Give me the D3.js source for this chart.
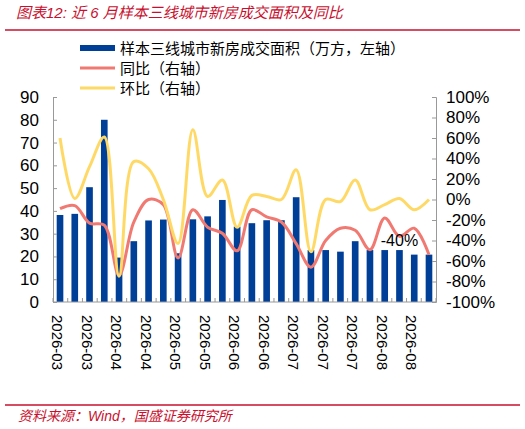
<!DOCTYPE html>
<html><head><meta charset="utf-8">
<script src="https://cdn.jsdelivr.net/npm/d3@7"></script>
<style>body{margin:0;background:#fff}text{font-family:"Liberation Sans","Noto Sans CJK SC",sans-serif}</style>
</head><body><div id="viz"></div>
<script>
var area = [38.2,38.7,50.4,80,19.5,26.7,35.8,36.2,21.4,36.3,37.6,44.8,33.1,34.6,35.9,35.9,46,22.8,22.8,22.1,26.7,22.8,22.8,22.8,20.8,20.8];
var yoy = [-9,-6,-23,-25,-74,-22,0,-5,-57,-10,-27,-33,-50,-10,-17,-22,-43,-66,-40,-28,-30,-49,-18,-36,-28,-54];
var mom = [60,1,32,61,-75,37,30,0,-43,68,3,19,-27,4,3,0,29,-51,0,-2,19,-10,-5,1,-10,0];
var tickLabels = ["2026-03","2026-03","2026-04","2026-04","2026-05","2026-05","2026-06","2026-06","2026-07","2026-07","2026-07","2026-08","2026-08"];
var leftTicks = [0,10,20,30,40,50,60,70,80,90];
var rightTicks = [-100,-80,-60,-40,-20,0,20,40,60,80,100];

var svg = d3.select("#viz").append("svg").attr("width", 525).attr("height", 429);
var red = "#c8102e";

svg.append("text").attr("x", 16).attr("y", 18).attr("fill", red).style("font-style", "italic")
    .style("font-size", "15px").text("图表12:  近 6 月样本三线城市新房成交面积及同比");
svg.append("line").attr("x1", 5).attr("x2", 520).attr("y1", 30).attr("y2", 30).attr("stroke", red).attr("stroke-width", 1.5);
svg.append("line").attr("x1", 5).attr("x2", 520).attr("y1", 405).attr("y2", 405).attr("stroke", red).attr("stroke-width", 1.5);
svg.append("text").attr("x", 18).attr("y", 421).attr("fill", red).style("font-style", "italic")
    .style("font-size", "14px").text("资料来源：Wind，国盛证券研究所");

var x0 = 53, x1 = 436, yTop = 97, yBot = 302;
var idx = d3.range(area.length);
var x = d3.scaleBand().domain(idx).range([x0, x1]).paddingInner(0.55).paddingOuter(0.25);
var y = d3.scaleLinear().domain([0, 90]).range([yBot, yTop]);
var y2 = d3.scaleLinear().domain([-100, 100]).range([yBot, yTop]);
var cx = function(i) { return x(i) + x.bandwidth() / 2; };

svg.selectAll(".bar").data(area).enter().append("rect")
    .attr("x", function(d, i) { return x(i); })
    .attr("width", x.bandwidth())
    .attr("y", function(d) { return y(d); })
    .attr("height", function(d) { return yBot - y(d); })
    .attr("fill", "#003f98");

var line = d3.line().x(function(d, i) { return cx(i); }).y(function(d) { return y2(d); }).curve(d3.curveCatmullRom);
svg.append("path").datum(yoy).attr("d", line).attr("fill", "none").attr("stroke", "#f07a72").attr("stroke-width", 3);
svg.append("path").datum(mom).attr("d", line).attr("fill", "none").attr("stroke", "#ffd966").attr("stroke-width", 3);

svg.append("text").attr("x", cx(23)).attr("y", y2(-40) + 5).attr("text-anchor", "middle")
    .style("font-size", "16px").text("-40%");

var axL = d3.axisLeft(y).tickValues(leftTicks).tickSize(-4);
var gL = svg.append("g").attr("transform", "translate(" + x0 + ",0)").call(axL);
var axR = d3.axisRight(y2).tickValues(rightTicks).tickSize(-4)
    .tickFormat(function(d) { return d + "%"; });
var gR = svg.append("g").attr("transform", "translate(" + x1 + ",0)").call(axR);
[gL, gR].forEach(function(g) {
    g.select(".domain").attr("stroke", "#999");
    g.selectAll(".tick line").attr("stroke", "#999");
    g.selectAll("text").style("font-size", "17px").attr("fill", "#000");
});
gL.selectAll("text").attr("x", -14);
gR.selectAll("text").attr("x", 10).attr("text-anchor", "start");

svg.append("line").attr("x1", x0).attr("x2", x1).attr("y1", yBot).attr("y2", yBot).attr("stroke", "#999");
svg.selectAll(".xt").data(idx.concat([area.length])).enter().append("line")
    .attr("x1", function(i) { return x0 + i * (x1 - x0) / area.length; })
    .attr("x2", function(i) { return x0 + i * (x1 - x0) / area.length; })
    .attr("y1", yBot).attr("y2", yBot - 4).attr("stroke", "#999");

svg.selectAll(".xl").data(tickLabels).enter().append("text")
    .attr("transform", function(d, k) { return "translate(" + (cx(2 * k) - 8) + "," + (yBot + 13) + ") rotate(90)"; })
    .style("font-size", "15px").text(function(d) { return d; });

var leg = [["样本三线城市新房成交面积（万方，左轴）", "#003f98", 6], ["同比（右轴）", "#f07a72", 3], ["环比（右轴）", "#ffd966", 3]];
leg.forEach(function(l, k) {
    var ly = 48 + k * 20;
    svg.append("line").attr("x1", 80).attr("x2", 115).attr("y1", ly).attr("y2", ly)
        .attr("stroke", l[1]).attr("stroke-width", l[2]);
    svg.append("text").attr("x", 120).attr("y", ly + 6).style("font-size", "15px").text(l[0]);
});
</script></body></html>
